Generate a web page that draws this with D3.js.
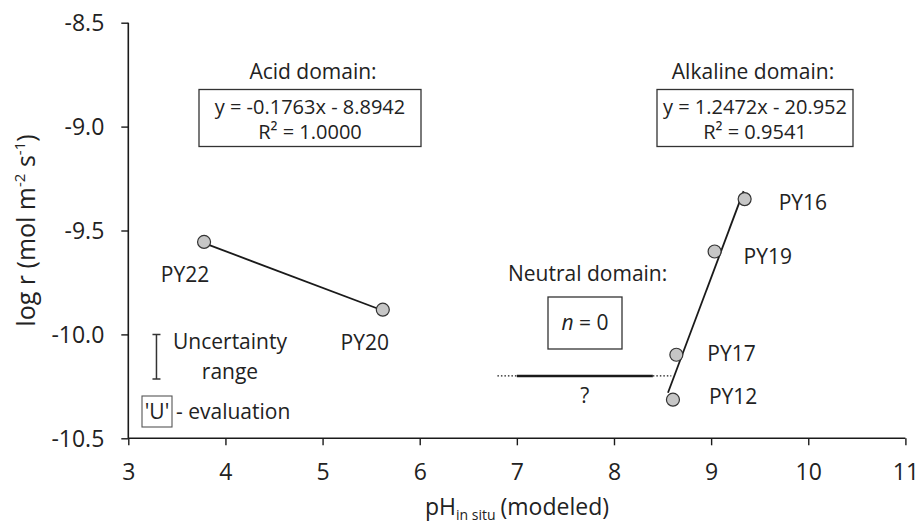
<!DOCTYPE html>
<html>
<head>
<meta charset="utf-8">
<script src="https://cdn.jsdelivr.net/npm/d3@7/dist/d3.min.js"></script>
<style>
  html, body { margin: 0; padding: 0; background: #fff; }
  svg { display: block; font-family: "Open Sans", sans-serif; }
</style>
</head>
<body>
<svg id="chart" width="921" height="525"></svg>
<script>
// Dissolution rates versus modeled in-situ pH
const xTicks = [3, 4, 5, 6, 7, 8, 9, 10, 11];
const yTicks = [-8.5, -9.0, -9.5, -10.0, -10.5];

const acidNames = ["PY22", "PY20"];
const acidPH = [3.78, 5.62];
const acidLogR = [-9.555, -9.881];

const alkNames = ["PY16", "PY19", "PY17", "PY12"];
const alkPH = [9.345, 9.036, 8.642, 8.607];
const alkLogR = [-9.349, -9.601, -10.098, -10.314];

// Linear fits stated in the boxes
const acidFit = { slope: -0.1763, intercept: -8.8942, r2: "1.0000", from: 3.78, to: 5.62 };
const alkFit = { slope: 1.2472, intercept: -20.952, r2: "0.9541", from: 8.556, to: 9.334 };

// Neutral domain: unknown trend (solid part, dotted extensions)
const neutralLogR = -10.2;
const neutralSolid = [7.0, 8.4];
const neutralDotted = [[6.8, 7.0], [8.4, 8.59]];

// Uncertainty range legend bar
const uncertaintyPH = 3.29;
const uncertaintyRange = [-10.0, -10.215];

const svg = d3.select("#chart");
const x = d3.scaleLinear().domain([3, 11]).range([128.3, 905.4]);
const y = d3.scaleLinear().domain([-10.5, -8.5]).range([438.3, 22.7]);
const ink = "#1a1a1a";
const fs = "21px";

// Axes (plain hyphen for negative numbers)
const xAxis = d3.axisBottom(x).tickValues(xTicks).tickSize(7).tickPadding(18)
  .tickFormat(d => String(d));
const yAxis = d3.axisLeft(y).tickValues(yTicks).tickSize(7).tickPadding(17)
  .tickFormat(d => d.toFixed(1));

const gx = svg.append("g").attr("transform", `translate(0,${y(-10.5)})`).call(xAxis);
const gy = svg.append("g").attr("transform", `translate(${x(3)},0)`).call(yAxis);
[gx, gy].forEach(g => {
  g.select(".domain").attr("stroke", ink).attr("stroke-width", 1.6);
  g.selectAll(".tick line").attr("stroke", ink).attr("stroke-width", 1.4);
  g.selectAll(".tick text").attr("fill", "#222").style("font-size", "23px")
    .style("font-family", "'Open Sans', sans-serif");
});
gx.select(".domain").attr("d", `M${x(3)},0H${x(11)}`);
gy.select(".domain").attr("d", `M0,${y(-8.5)}V${y(-10.5)}`);
gy.selectAll(".tick text").attr("dy", "0.36em");

// Axis titles
const yl = svg.append("text")
  .attr("transform", `translate(35,${(y(-8.5) + y(-10.5)) / 2}) rotate(-90)`)
  .attr("text-anchor", "middle").attr("fill", "#222").style("font-size", "25px");
yl.append("tspan").text("log r (mol m");
yl.append("tspan").attr("dy", -10).style("font-size", "15px").text("-2");
yl.append("tspan").attr("dy", 10).text(" s");
yl.append("tspan").attr("dy", -10).style("font-size", "15px").text("-1");
yl.append("tspan").attr("dy", 10).text(")");

const xl = svg.append("text").attr("x", 517).attr("y", 515)
  .attr("text-anchor", "middle").attr("fill", "#222").style("font-size", "23px");
xl.append("tspan").text("pH");
xl.append("tspan").attr("dy", 5).style("font-size", "14px").text("in situ");
xl.append("tspan").attr("dy", -5).attr("dx", 5).text("(modeled)");

// Fit lines
function fitLine(f) {
  return [[f.from, f.slope * f.from + f.intercept], [f.to, f.slope * f.to + f.intercept]];
}
const line = d3.line().x(d => x(d[0])).y(d => y(d[1]));
[acidFit, alkFit].forEach(f => {
  svg.append("path").attr("d", line(fitLine(f)))
    .attr("fill", "none").attr("stroke", ink).attr("stroke-width", 1.8);
});

// Neutral domain line
svg.append("path").attr("d", line(neutralSolid.map(v => [v, neutralLogR])))
  .attr("stroke", ink).attr("stroke-width", 2.6).attr("fill", "none");
neutralDotted.forEach(seg => {
  svg.append("path").attr("d", line(seg.map(v => [v, neutralLogR])))
    .attr("stroke", ink).attr("stroke-width", 1.3).attr("stroke-dasharray", "1.5,2")
    .attr("fill", "none");
});
svg.append("text").attr("x", x(7.7)).attr("y", y(-10.3) + 6)
  .attr("text-anchor", "middle").attr("fill", "#222").style("font-size", fs).text("?");

// Points
const acidPts = acidPH.map((v, i) => ({ x: v, y: acidLogR[i], name: acidNames[i] }));
const alkPts = alkPH.map((v, i) => ({ x: v, y: alkLogR[i], name: alkNames[i] }));
svg.selectAll("circle.pt").data(acidPts.concat(alkPts)).join("circle")
  .attr("class", "pt")
  .attr("cx", d => x(d.x)).attr("cy", d => y(d.y)).attr("r", 6.5)
  .attr("fill", "#c6c6c6").attr("stroke", "#333").attr("stroke-width", 1.2);

// Point labels
const labelOffsets = {
  PY22: [-19, 40, "middle"], PY20: [-18, 40, "middle"],
  PY16: [34, 11, "start"], PY19: [29, 13, "start"],
  PY17: [31, 6, "start"], PY12: [36, 4, "start"]
};
svg.selectAll("text.lbl").data(acidPts.concat(alkPts)).join("text")
  .attr("class", "lbl")
  .attr("x", d => x(d.x) + labelOffsets[d.name][0])
  .attr("y", d => y(d.y) + labelOffsets[d.name][1])
  .attr("text-anchor", d => labelOffsets[d.name][2])
  .attr("fill", "#222").style("font-size", fs).text(d => d.name);

// Domain annotations
function fmt(v) { return Math.abs(v).toFixed(String(v).split(".")[1].length); }
function eqText(f) {
  return `y = ${f.slope < 0 ? "-" : ""}${fmt(f.slope)}x ${f.intercept < 0 ? "-" : "+"} ${fmt(f.intercept)}`;
}
function domainBox(title, f, cx, boxX0, boxX1) {
  svg.append("text").attr("x", cx).attr("y", 79).attr("text-anchor", "middle")
    .attr("fill", "#222").style("font-size", fs).text(title);
  svg.append("rect").attr("x", boxX0).attr("y", 89.5).attr("width", boxX1 - boxX0).attr("height", 57)
    .attr("fill", "none").attr("stroke", "#333").attr("stroke-width", 1.3);
  const bx = (boxX0 + boxX1) / 2;
  svg.append("text").attr("x", bx).attr("y", 114).attr("text-anchor", "middle")
    .attr("fill", "#222").style("font-size", "20px").text(eqText(f));
  svg.append("text").attr("x", bx).attr("y", 139).attr("text-anchor", "middle")
    .attr("fill", "#222").style("font-size", "20px").text("R\u00B2 = " + f.r2);
}
domainBox("Acid domain:", acidFit, 313, 199, 421);
domainBox("Alkaline domain:", alkFit, 753, 657, 853);

svg.append("text").attr("x", 508).attr("y", 281).attr("fill", "#222")
  .style("font-size", fs).text("Neutral domain:");
svg.append("rect").attr("x", 548).attr("y", 297).attr("width", 74).attr("height", 52)
  .attr("fill", "none").attr("stroke", "#333").attr("stroke-width", 1.3);
const nt = svg.append("text").attr("x", 585).attr("y", 330).attr("text-anchor", "middle")
  .attr("fill", "#222").style("font-size", fs);
nt.append("tspan").style("font-style", "italic").text("n");
nt.append("tspan").text(" = 0");

// Uncertainty legend
const ux = x(uncertaintyPH);
svg.append("path")
  .attr("d", `M${ux},${y(uncertaintyRange[0])}V${y(uncertaintyRange[1])}` +
    `M${ux - 4},${y(uncertaintyRange[0])}H${ux + 4}M${ux - 4},${y(uncertaintyRange[1])}H${ux + 4}`)
  .attr("stroke", "#333").attr("stroke-width", 1.5).attr("fill", "none");
svg.append("text").attr("x", 230).attr("y", 349).attr("text-anchor", "middle")
  .attr("fill", "#222").style("font-size", fs).text("Uncertainty");
svg.append("text").attr("x", 230).attr("y", 379).attr("text-anchor", "middle")
  .attr("fill", "#222").style("font-size", fs).text("range");
svg.append("rect").attr("x", 142).attr("y", 396).attr("width", 30).attr("height", 31)
  .attr("fill", "none").attr("stroke", "#555").attr("stroke-width", 1.1);
svg.append("text").attr("x", 157).attr("y", 419).attr("text-anchor", "middle")
  .attr("fill", "#222").style("font-size", fs).text("'U'");
svg.append("text").attr("x", 176).attr("y", 419)
  .attr("fill", "#222").style("font-size", fs).text("- evaluation");
</script>
</body>
</html>
